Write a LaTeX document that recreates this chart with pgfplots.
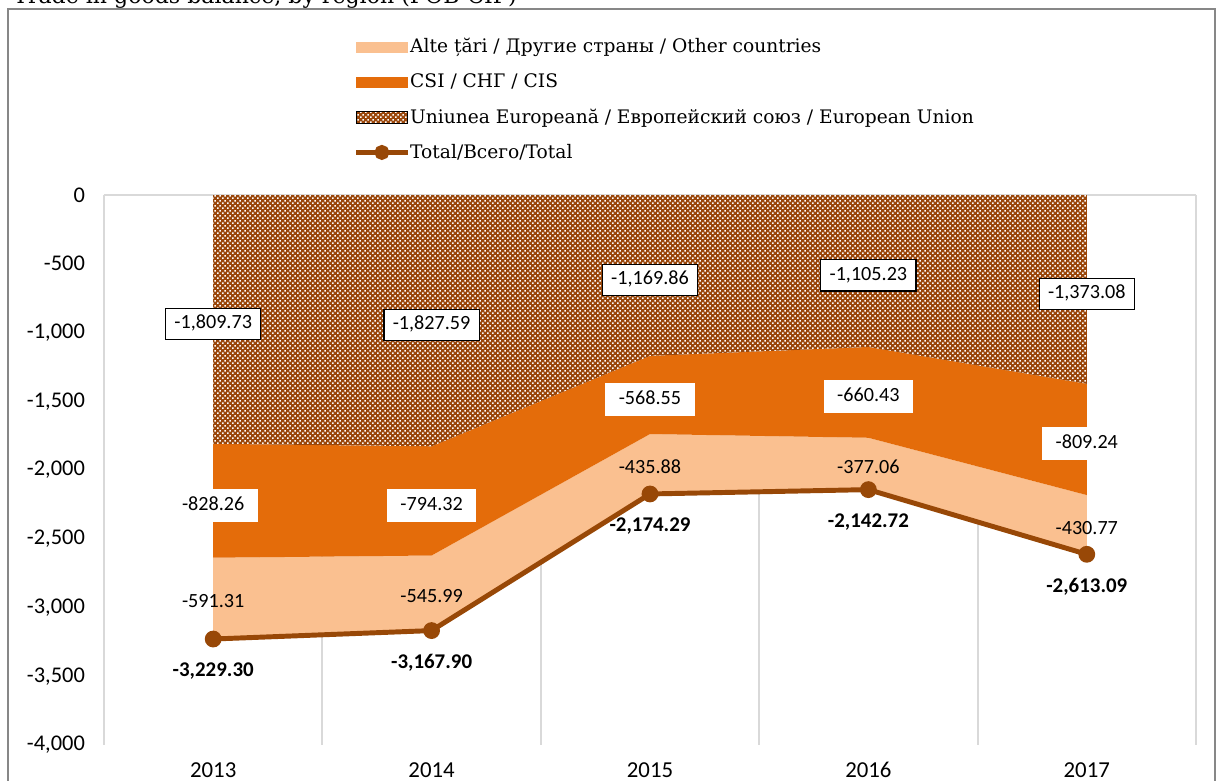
\documentclass[border=0pt]{standalone}
\usepackage{fontspec}
\setmainfont{DejaVu Serif}
\newfontfamily\lblfont{Carlito}
\usepackage{pgfplots}
\pgfplotsset{compat=1.18}
\usetikzlibrary{patterns.meta}

\definecolor{eubrown}{HTML}{9A470B}
\definecolor{cisorange}{HTML}{E46C0A}
\definecolor{otherpeach}{HTML}{FAC090}
\definecolor{totalbrown}{HTML}{984807}
\definecolor{gridgray}{HTML}{D9D9D9}
\definecolor{framegray}{HTML}{878787}

\pgfdeclarepattern{
  name=eucheck,
  type=uncolored,
  bottom left={\pgfpoint{0pt}{0pt}},
  top right={\pgfpoint{2.6pt}{2.6pt}},
  tile size={\pgfpoint{2.6pt}{2.6pt}},
  code={
    \pgfpathrectangle{\pgfpoint{0pt}{0pt}}{\pgfpoint{0.8pt}{0.8pt}}
    \pgfpathrectangle{\pgfpoint{1.3pt}{1.3pt}}{\pgfpoint{0.8pt}{0.8pt}}
    \pgfusepath{fill}
  }
}

% values per region, 2013..2017 at x = 0..4
\pgfplotstableread{
x y
0 -1809.73
1 -1827.59
2 -1169.86
3 -1105.23
4 -1373.08
}\eu
\pgfplotstableread{
x y
0 -828.26
1 -794.32
2 -568.55
3 -660.43
4 -809.24
}\cis
\pgfplotstableread{
x y
0 -591.31
1 -545.99
2 -435.88
3 -377.06
4 -430.77
}\other
\pgfplotstableread{
x y
0 -3229.30
1 -3167.90
2 -2174.29
3 -2142.72
4 -2613.09
}\total

\pgfplotsset{
  baseaxis/.style={
    at={(54.69pt,18.41pt)}, anchor=south west,
    scale only axis, width=574.26pt, height=289.23pt,
    xmin=-0.5, xmax=4.5, ymin=-4000, ymax=0,
    /pgf/number format/1000 sep={,},
    /pgf/number format/assume math mode=true,
  },
  seglabel/.style={
    point meta=explicit,
    visualization depends on={\thisrow{y}\as\rawy},
    nodes near coords={\pgfmathprintnumber[fixed,fixed zerofill,precision=2]{\pgfplotspointmeta}},
    every node near coord/.append style={
      anchor=center, font=\lblfont\fontsize{10.6}{12}\selectfont,
      text height=6.8pt, text depth=1.6pt,
      yshift={-0.0361538*(\rawy)*1pt-2.3pt}, #1},
  },
  legpatch/.style={legend image code/.code={\path[##1, draw=none] (0pt,-3pt) rectangle (27pt,3pt);}},
  legline/.style={legend image code/.code={\draw[##1] plot[mark repeat=2,mark phase=2] coordinates {(0pt,0pt) (13.5pt,0pt) (27pt,0pt)};}},
}

\begin{document}
\begin{tikzpicture}
\draw[framegray, line width=1pt] (4.21pt,-5pt) |- (638.9pt,405.45pt) -- (638.9pt,-5pt);
\node[anchor=base west, font=\fontsize{11.6}{13}\selectfont, inner sep=0pt] at (6.8pt,408.4pt) {Trade in goods balance, by region (FOB-CIF)};

\begin{axis}[
  baseaxis,
  stack plots=y,
  axis line style={draw=none},
  xtick={0,1,2,3,4}, xticklabels={2013,2014,2015,2016,2017},
  minor xtick={-0.5,0.5,1.5,2.5,3.5,4.5},
  xminorgrids, minor grid style={gridgray, line width=1pt},
  tick style={draw=none},
  ytick={-4000,-3500,...,0},
  extra y ticks={0}, extra y tick labels={},
  extra y tick style={ymajorgrids=true, major grid style={gridgray, line width=1pt}},
  yticklabel style={font=\lblfont\fontsize{11.8}{13}\selectfont, xshift=-6.5pt},
  xticklabel style={font=\lblfont\fontsize{12}{13}\selectfont, anchor=center, yshift=-13pt},
]
\addplot[draw=none, fill=eubrown, postaction={pattern=eucheck, pattern color=white},
  seglabel={fill=white, draw=black, line width=0.6pt, inner xsep=4.6pt, inner ysep=4pt}]
  table[x=x, y=y, meta=y] {\eu} \closedcycle;
\addplot[draw=none, fill=cisorange,
  seglabel={fill=white, inner ysep=4.5pt, minimum width=47pt}]
  table[x=x, y=y, meta=y] {\cis} \closedcycle;
\addplot[draw=none, fill=otherpeach,
  seglabel={inner ysep=4pt}]
  table[x=x, y=y, meta=y] {\other} \closedcycle;
\end{axis}

\begin{axis}[
  baseaxis, hide axis,
  legend style={at={(0.2282,1.292)}, anchor=north west, draw=none, fill=none,
    font=\fontsize{9.8}{12}\selectfont, row sep=5.5pt, inner sep=0pt,
    /tikz/every even column/.append style={column sep=0pt},
    /tikz/every odd column/.append style={column sep=-2pt}},
  legend cell align=left,
]
\addlegendimage{legpatch, fill=otherpeach}
\addlegendentry{Alte țări / Другие страны / Other countries}
\addlegendimage{legpatch, fill=cisorange}
\addlegendentry{CSI / СНГ / CIS}
\addlegendimage{legpatch, fill=eubrown, postaction={pattern=eucheck, pattern color=white}}
\addlegendentry{Uniunea Europeană / Европейский союз / European Union}
\addlegendimage{legline, totalbrown, line width=2.8pt, mark=*, mark size=2.5pt}
\addlegendentry{Total/Всего/Total}

\addplot[totalbrown, line width=2.6pt, mark=*, mark size=3.1pt,
  nodes near coords={\pgfmathprintnumber[fixed,fixed zerofill,precision=2]{\pgfplotspointmeta}},
  every node near coord/.append style={anchor=center, yshift=-17pt, text=black,
    font=\lblfont\bfseries\fontsize{11}{12}\selectfont}]
  table[x=x, y=y] {\total};
\end{axis}

\pgfresetboundingbox
\useasboundingbox (0pt,0pt) rectangle (640pt,410.19pt);
\end{tikzpicture}
\end{document}
